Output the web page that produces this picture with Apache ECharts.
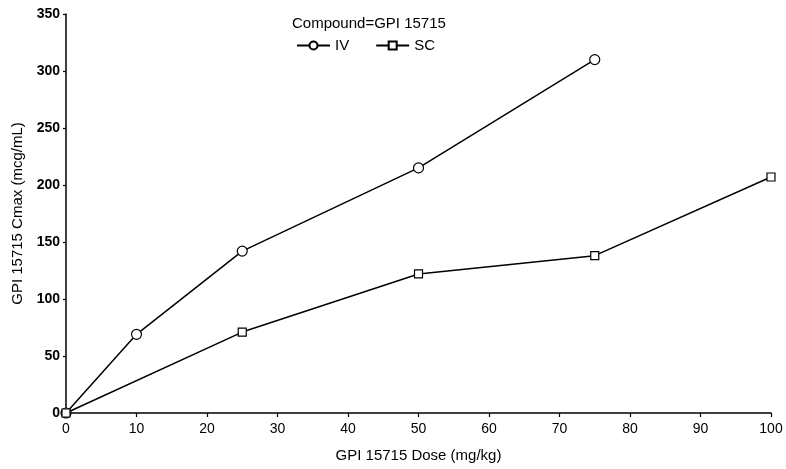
<!DOCTYPE html>
<html>
<head>
<meta charset="utf-8">
<script src="https://cdn.jsdelivr.net/npm/echarts@6/dist/echarts.min.js"></script>
<style>html,body{margin:0;padding:0;background:#fff;}#c{width:786px;height:469px;}</style>
</head>
<body>
<div id="c"></div>
<script>
var ivDoses = [0, 10, 25, 50, 75];
var ivValues = [0, 69, 142, 215, 310];
var scDoses = [0, 25, 50, 75, 100];
var scValues = [0, 71, 122, 138, 207];
var xTicks = [0, 10, 20, 30, 40, 50, 60, 70, 80, 90, 100];
var yTicks = [0, 50, 100, 150, 200, 250, 300, 350];

function pairs(xs, ys) { return xs.map(function (x, i) { return [x, ys[i]]; }); }

var font = 'Liberation Sans, Arial, sans-serif';
var chart = echarts.init(document.getElementById('c'), null, {renderer: 'canvas'});
chart.setOption({
  animation: false,
  backgroundColor: '#fff',
  title: {
    text: 'Compound=GPI 15715',
    left: 287, top: 11,
    textStyle: {fontFamily: font, fontSize: 15, fontWeight: 'normal', color: '#000'}
  },
  legend: {
    left: 291, top: 33,
    itemWidth: 33, itemHeight: 10, itemGap: 26,
    textStyle: {fontFamily: font, fontSize: 15, color: '#000'},
    data: ['IV', 'SC']
  },
  grid: {left: 66, right: 15, top: 14, bottom: 56, containLabel: false},
  xAxis: {
    type: 'value', min: xTicks[0], max: xTicks[xTicks.length - 1], interval: 10,
    name: 'GPI 15715 Dose (mg/kg)', nameLocation: 'middle', nameGap: 35,
    nameTextStyle: {fontFamily: font, fontSize: 15, color: '#000'},
    axisLine: {lineStyle: {color: '#000', width: 1.5}},
    axisTick: {show: true, inside: false, length: 4, lineStyle: {color: '#000', width: 1.2}},
    axisLabel: {fontFamily: font, fontSize: 14, color: '#000', margin: 9},
    splitLine: {show: false}
  },
  yAxis: {
    type: 'value', min: yTicks[0], max: yTicks[yTicks.length - 1], interval: 50,
    name: 'GPI 15715 Cmax (mcg/mL)', nameLocation: 'middle', nameGap: 39, nameRotate: 90,
    nameTextStyle: {fontFamily: font, fontSize: 15, color: '#000'},
    axisLine: {show: true, lineStyle: {color: '#000', width: 1.5}},
    axisTick: {show: true, inside: false, length: 3, lineStyle: {color: '#000', width: 1.2}},
    axisLabel: {fontFamily: font, fontSize: 14, fontWeight: 'bold', color: '#000', margin: 6},
    splitLine: {show: false}
  },
  series: [
    {
      name: 'IV', type: 'line', data: pairs(ivDoses, ivValues),
      symbol: 'circle', symbolSize: 10, showAllSymbol: true,
      lineStyle: {color: '#000', width: 1.5},
      itemStyle: {color: '#fff', borderColor: '#000', borderWidth: 1.2}
    },
    {
      name: 'SC', type: 'line', data: pairs(scDoses, scValues),
      symbol: 'rect', symbolSize: 8, showAllSymbol: true,
      lineStyle: {color: '#000', width: 1.5},
      itemStyle: {color: '#fff', borderColor: '#000', borderWidth: 1.2}
    }
  ]
});
</script>
</body>
</html>
